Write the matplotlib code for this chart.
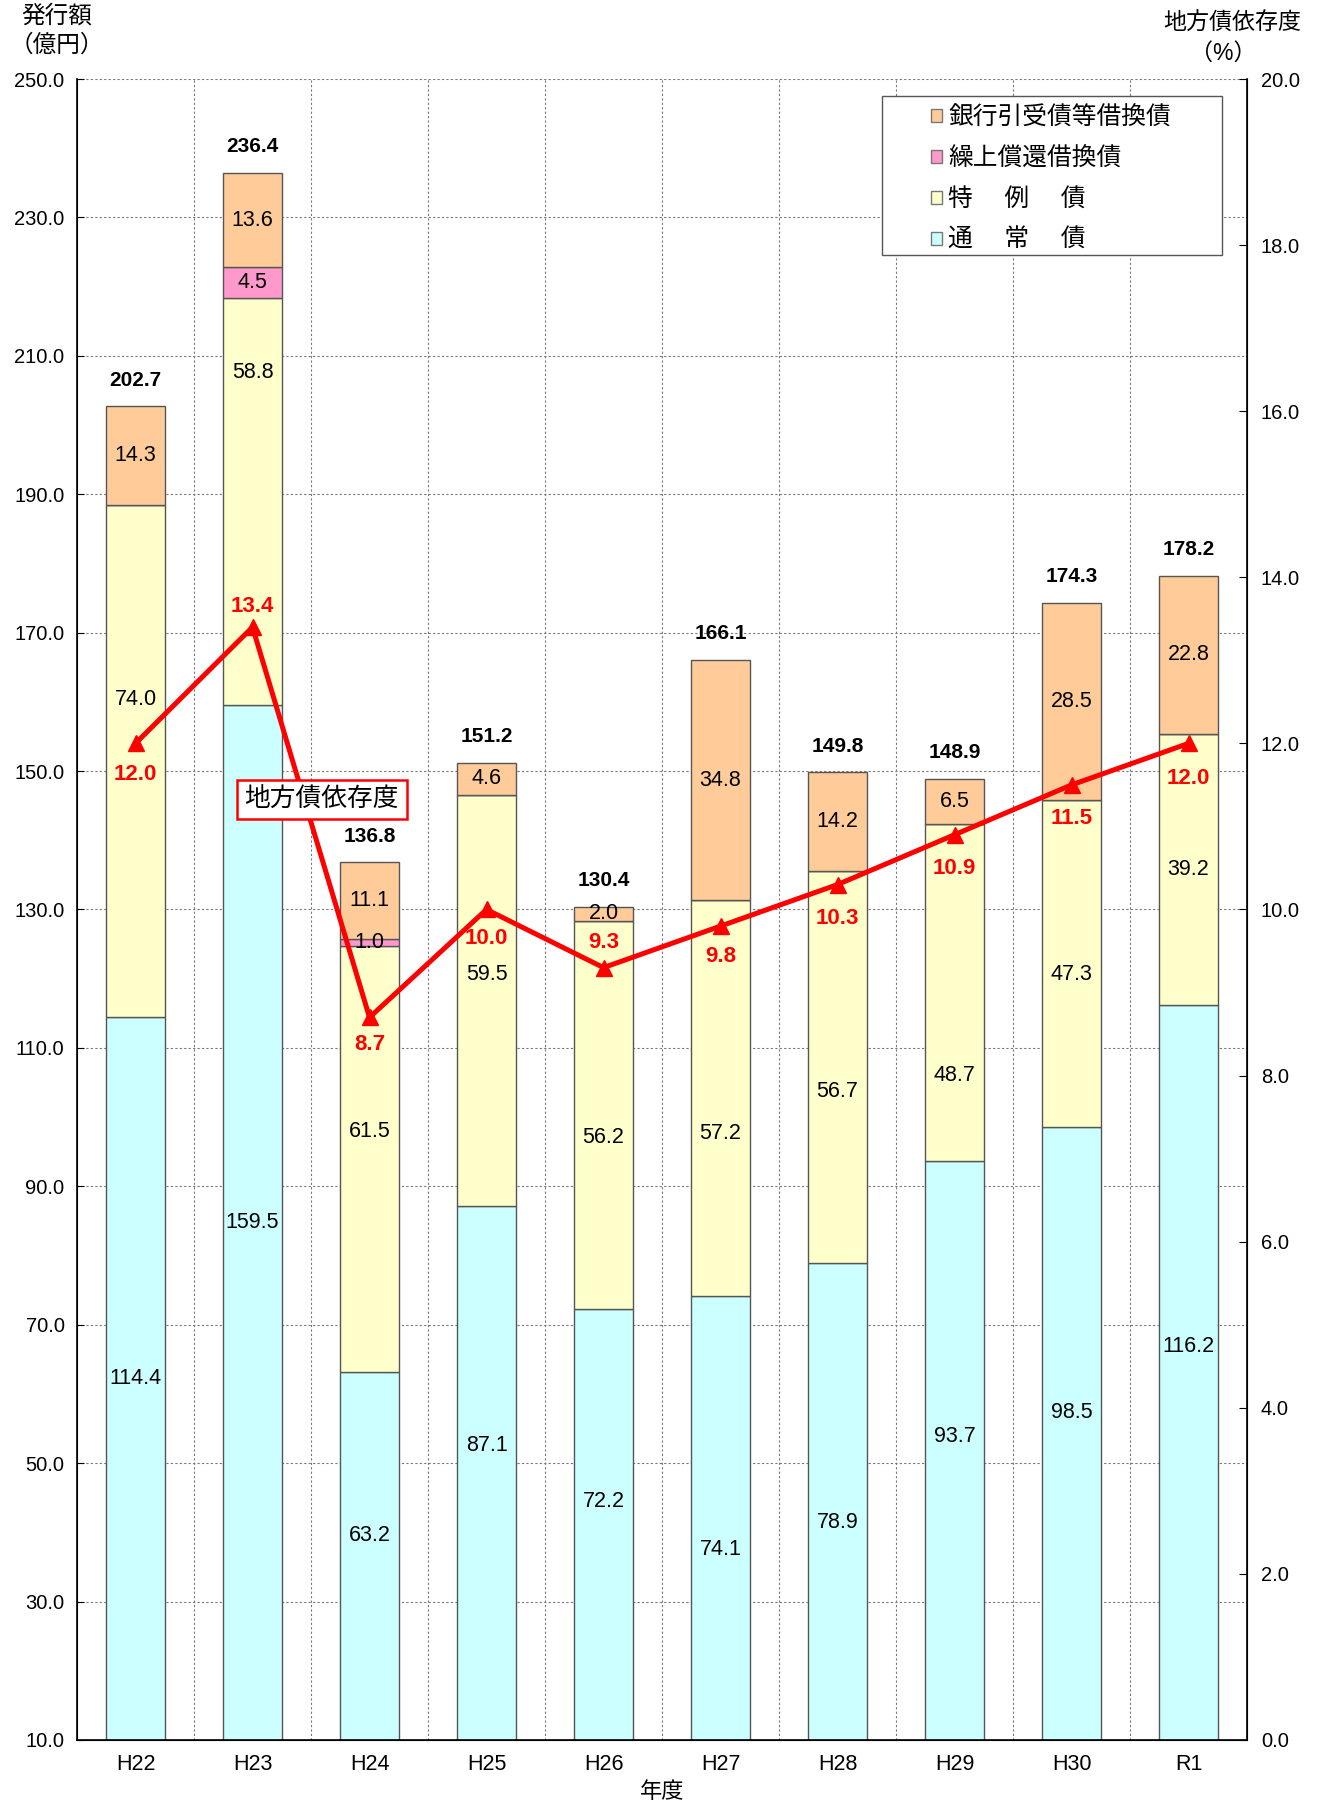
import matplotlib
matplotlib.use('Agg')
import matplotlib.pyplot as plt
from matplotlib.patches import Patch, Rectangle
import numpy as np

plt.rcParams['font.family'] = ['Liberation Sans', 'Noto Sans CJK JP']

years = ['H22', 'H23', 'H24', 'H25', 'H26', 'H27', 'H28', 'H29', 'H30', 'R1']
tsujo = [114.4, 159.5, 63.2, 87.1, 72.2, 74.1, 78.9, 93.7, 98.5, 116.2]
tokurei = [74.0, 58.8, 61.5, 59.5, 56.2, 57.2, 56.7, 48.7, 47.3, 39.2]
kuriage = [0.0, 4.5, 1.0, 0.0, 0.0, 0.0, 0.0, 0.0, 0.0, 0.0]
ginko = [14.3, 13.6, 11.1, 4.6, 2.0, 34.8, 14.2, 6.5, 28.5, 22.8]
totals = [202.7, 236.4, 136.8, 151.2, 130.4, 166.1, 149.8, 148.9, 174.3, 178.2]
izon = [12.0, 13.4, 8.7, 10.0, 9.3, 9.8, 10.3, 10.9, 11.5, 12.0]

c_tsujo = '#CCFFFF'
c_tokurei = '#FFFFCC'
c_kuriage = '#FF99CC'
c_ginko = '#FFCC99'

# manual label nudges (left axis units), like the original
tsujo_off = [0, 0, 3, 4, 3.3, -4.5, -3, 2, 3, 3.8]
tokurei_off = [9, 18.7, 4, 3.7, -3.3, -5, -3.5, -12, -1.5, 0]
izon_off = [-0.38, 0.25, -0.32, -0.35, 0.3, -0.37, -0.41, -0.41, -0.4, -0.42]

fig = plt.figure(figsize=(13.21, 18.04), dpi=100)
ax = fig.add_axes([0.0583, 0.0355, 0.8857, 0.9207])
ax2 = ax.twinx()

x = np.arange(len(years))
w = 0.5
ec = '#555555'
b1 = np.zeros(len(years))
b2 = b1 + np.array(tsujo)
b3 = b2 + np.array(tokurei)
b4 = b3 + np.array(kuriage)
ax.bar(x, tsujo, w, bottom=b1, color=c_tsujo, edgecolor=ec, linewidth=1, zorder=2)
ax.bar(x, tokurei, w, bottom=b2, color=c_tokurei, edgecolor=ec, linewidth=1, zorder=2)
ax.bar(x, kuriage, w, bottom=b3, color=c_kuriage, edgecolor=ec, linewidth=1, zorder=2)
ax.bar(x, ginko, w, bottom=b4, color=c_ginko, edgecolor=ec, linewidth=1, zorder=2)

ax.set_ylim(10, 250)
ax.set_xlim(-0.5, len(years) - 0.5)
ax.set_yticks(np.arange(10, 251, 20))
ax.set_yticklabels(['%.1f' % v for v in np.arange(10, 251, 20)], fontsize=14.5)
ax.set_xticks(x)
ax.set_xticklabels(years, fontsize=15.5)
ax.set_xticks(np.arange(0.5, len(years) - 1, 1), minor=True)
ax.tick_params(axis='x', which='both', length=0, pad=10)
ax.tick_params(axis='y', direction='in', length=5, pad=9)
ax.grid(axis='y', which='major', color='#777777', linestyle=(0, (2, 2)), linewidth=0.8, zorder=0)
ax.grid(axis='x', which='minor', color='#777777', linestyle=(0, (2, 2)), linewidth=0.8, zorder=0)
ax.set_axisbelow(True)
for s in ['top']:
    ax.spines[s].set_visible(False)
    ax2.spines[s].set_visible(False)
for s in ['left', 'bottom', 'right']:
    ax2.spines[s].set_linewidth(1.2)

for i in range(len(years)):
    lo = max(b1[i], 10)
    ax.text(x[i], (lo + b2[i]) / 2 + tsujo_off[i], '%.1f' % tsujo[i], ha='center', va='center', fontsize=15.5, zorder=5)
    ax.text(x[i], (b2[i] + b3[i]) / 2 + tokurei_off[i], '%.1f' % tokurei[i], ha='center', va='center', fontsize=15.5, zorder=5)
    if kuriage[i] > 0:
        ax.text(x[i], (b3[i] + b4[i]) / 2, '%.1f' % kuriage[i], ha='center', va='center', fontsize=15.5, zorder=5)
    ax.text(x[i], b4[i] + ginko[i] / 2, '%.1f' % ginko[i], ha='center', va='center', fontsize=15.5, zorder=5)
    ax.text(x[i], totals[i] + 3.8, '%.1f' % totals[i], ha='center', va='center', fontsize=15, fontweight='bold', zorder=5)

ax2.set_ylim(0, 20)
ax2.set_yticks(np.arange(0, 21, 2))
ax2.set_yticklabels(['%.1f' % v for v in np.arange(0, 21, 2)], fontsize=14.5)
ax2.tick_params(axis='y', direction='in', length=6, pad=10)
ax2.plot(x, izon, color='#FF0000', linewidth=3.6, marker='^', markersize=11, zorder=4)
for i in range(len(years)):
    ax2.text(x[i], izon[i] + izon_off[i], '%.1f' % izon[i], ha='center', va='center', fontsize=16,
             fontweight='bold', color='#FF0000', zorder=6)

ax2.text(1.59, (145.9 - 10) / 12, '地方債依存度', ha='center', va='center', fontsize=18.5, zorder=7,
         bbox=dict(boxstyle='square,pad=0.3', facecolor='white', edgecolor='#FF0000', linewidth=1.8))

# legend
ax2.add_patch(Rectangle((0.688, 0.894), 0.291, 0.0958, transform=ax2.transAxes, facecolor='white',
                        edgecolor='#555555', linewidth=1, zorder=8))
handles = [Patch(facecolor=c_ginko, edgecolor='#777777'),
           Patch(facecolor=c_kuriage, edgecolor='#777777'),
           Patch(facecolor=c_tokurei, edgecolor='#777777'),
           Patch(facecolor=c_tsujo, edgecolor='#777777')]
labels = ['銀行引受債等借換債', '繰上償還借換債', '特　 例　 債', '通　 常　 債']
leg = ax2.legend(handles, labels, loc='upper left', bbox_to_anchor=(0.730, 0.984), frameon=False,
                 fontsize=17.8, handlelength=0.45, handleheight=0.45, handletextpad=0.25,
                 labelspacing=0.68, borderaxespad=0, borderpad=0)
leg.set_zorder(9)

fig.text(0.043, 0.991, '発行額', ha='center', va='center', fontsize=17)
fig.text(0.043, 0.975, '（億円）', ha='center', va='center', fontsize=17)
fig.text(0.985, 0.987, '地方債依存度', ha='right', va='center', fontsize=16.6)
fig.text(0.951, 0.9706, '（%）', ha='right', va='center', fontsize=16.6)
fig.text(0.501, 0.0065, '年度', ha='center', va='center', fontsize=16)

fig.savefig('out.png', dpi=100)
